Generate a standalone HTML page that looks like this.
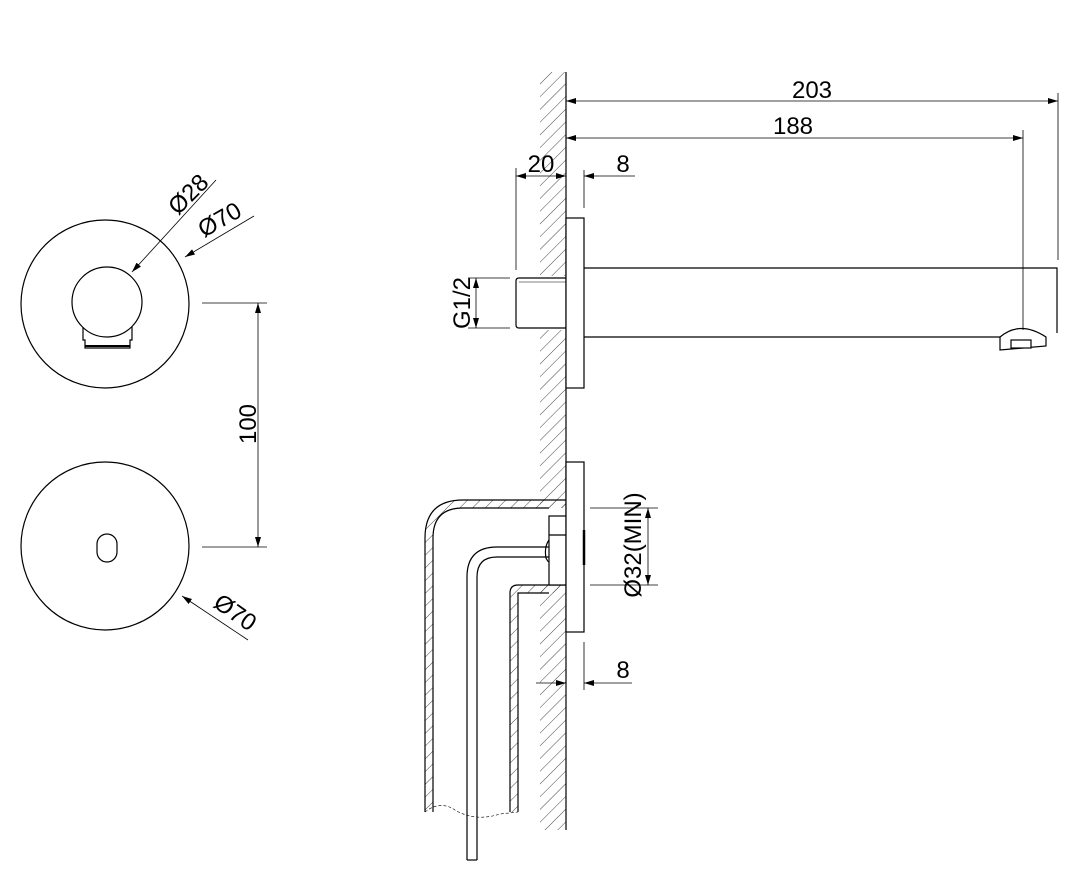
<!DOCTYPE html>
<html><head><style>html,body{margin:0;padding:0;background:#fff}svg{display:block}</style></head>
<body>
<svg width="1084" height="881" viewBox="0 0 1084 881" xmlns="http://www.w3.org/2000/svg" font-family="Liberation Sans, sans-serif">
<defs>
<pattern id="h" width="9" height="9" patternUnits="userSpaceOnUse" patternTransform="rotate(45)">
<line x1="0" y1="0" x2="0" y2="9" stroke="#333" stroke-width="0.9"/>
</pattern>
<marker id="a" viewBox="0 0 10 6" refX="10" refY="3" markerWidth="10" markerHeight="6" orient="auto-start-reverse" markerUnits="userSpaceOnUse">
<path d="M0,0 L10,3 L0,6 Z" fill="#000"/>
</marker>
</defs>
<g fill="none" stroke="#000" stroke-width="1.2">
<circle cx="105" cy="304" r="84"/>
<circle cx="107" cy="302" r="35"/>
<path d="M83,327 L83,340 L85,340 L85,348 L130,348 L130,340 L132,340 L132,327"/>
<line x1="85" y1="346" x2="130" y2="346" stroke-width="2"/>
<circle cx="105" cy="546" r="84"/>
<rect x="97" y="534" width="20" height="28" rx="10"/>
<line x1="132" y1="272" x2="216" y2="180" stroke-width="0.8" marker-start="url(#a)"/>
<line x1="185" y1="257" x2="254" y2="216" stroke-width="0.8" marker-start="url(#a)"/>
<line x1="182" y1="596" x2="248" y2="640" stroke-width="0.8" marker-start="url(#a)"/>
<line x1="202" y1="303" x2="267" y2="303" stroke-width="0.8"/>
<line x1="202" y1="547" x2="267" y2="547" stroke-width="0.8"/>
<line x1="258" y1="303" x2="258" y2="547" stroke-width="0.8" marker-start="url(#a)" marker-end="url(#a)"/>
</g>
<g font-size="24" fill="#000">
<text transform="translate(178,216) rotate(-45)">Ø28</text>
<text transform="translate(204,238) rotate(-30)">Ø70</text>
<text transform="translate(212,606) rotate(35)">Ø70</text>
<text transform="translate(256,424) rotate(-90)" text-anchor="middle">100</text>
</g>
<rect x="540" y="72" width="26" height="758" fill="url(#h)"/>
<rect x="540" y="508" width="26" height="77" fill="#fff"/>
<rect x="512" y="276" width="54" height="54" fill="#fff"/>
<path d="M566,500 L463,500 Q425,500 425,538 L425,812 L433,812 L433,538 Q433,508 463,508 L566,508 Z" fill="url(#h)"/>
<path d="M566,585 L518,585 Q510,585 510,593 L510,812 L518,812 L518,593 L566,593 Z" fill="url(#h)"/>
<g fill="none" stroke="#000" stroke-width="1.2">
<line x1="566" y1="72" x2="566" y2="830"/>
<rect x="566" y="218" width="18" height="170" fill="#fff"/>
<path d="M584,268 L1057,268 L1057,333 M584,337 L1000,337"/>
<path d="M566,278 L519,278 Q516,278 516,281 L516,325 Q516,328 519,328 L566,328"/>
<line x1="519" y1="282" x2="566" y2="282" stroke-width="0.6"/>
<path d="M1000,337 Q1020,320 1046,337 L1046,346 L1000,350 Z" fill="#fff"/>
<rect x="1011" y="340" width="20" height="8" fill="#fff"/>
<line x1="566" y1="101" x2="1058" y2="101" stroke-width="0.8" marker-start="url(#a)" marker-end="url(#a)"/>
<line x1="1058" y1="93" x2="1058" y2="260" stroke-width="0.8"/>
<line x1="566" y1="138" x2="1023" y2="138" stroke-width="0.8" marker-start="url(#a)" marker-end="url(#a)"/>
<line x1="1023" y1="130" x2="1023" y2="330" stroke-width="0.8"/>
<line x1="516" y1="168" x2="516" y2="270" stroke-width="0.8"/>
<line x1="516" y1="176" x2="566" y2="176" stroke-width="0.8" marker-start="url(#a)" marker-end="url(#a)"/>
<line x1="584" y1="170" x2="584" y2="208" stroke-width="0.8"/>
<line x1="584" y1="176" x2="635" y2="176" stroke-width="0.8" marker-start="url(#a)"/>
<line x1="468" y1="278" x2="510" y2="278" stroke-width="0.8"/>
<line x1="468" y1="328" x2="510" y2="328" stroke-width="0.8"/>
<line x1="476" y1="278" x2="476" y2="328" stroke-width="0.8" marker-start="url(#a)" marker-end="url(#a)"/>
<path d="M566,500 L463,500 Q425,500 425,538 L425,812"/>
<path d="M549,508 L463,508 Q433,508 433,538 L433,812"/>
<path d="M566,585 L518,585 Q510,585 510,593 L510,812"/>
<path d="M549,593 L518,593 L518,812"/>
<path d="M425,812 Q440,800 455,810 Q475,822 500,814 L518,812" stroke-width="0.6" stroke-dasharray="3,2"/>
<path d="M549,547 L497,547 Q467,547 467,577 L467,860"/>
<path d="M549,557 L497,557 Q477,557 477,577 L477,860"/>
<line x1="467" y1="860" x2="477" y2="860"/>
<rect x="549" y="516" width="17" height="69" fill="#fff"/>
<line x1="549" y1="535" x2="566" y2="535"/>
<path d="M549,540 Q544,547 546,558 Q548,562 549,562"/>
<rect x="566" y="462" width="18" height="170" fill="#fff"/>
<line x1="584" y1="530" x2="584" y2="565" stroke-width="2.5"/>
<line x1="590" y1="508" x2="658" y2="508" stroke-width="0.8"/>
<line x1="590" y1="585" x2="658" y2="585" stroke-width="0.8"/>
<line x1="648" y1="508" x2="648" y2="585" stroke-width="0.8" marker-start="url(#a)" marker-end="url(#a)"/>
<line x1="584" y1="642" x2="584" y2="690" stroke-width="0.8"/>
<line x1="536" y1="683" x2="566" y2="683" stroke-width="0.8" marker-end="url(#a)"/>
<line x1="584" y1="683" x2="632" y2="683" stroke-width="0.8" marker-start="url(#a)"/>
</g>
<g font-size="24" fill="#000">
<text x="812" y="98" text-anchor="middle">203</text>
<text x="793" y="134" text-anchor="middle">188</text>
<text x="541" y="172" text-anchor="middle">20</text>
<text x="623" y="172" text-anchor="middle">8</text>
<text x="623" y="678" text-anchor="middle">8</text>
<text transform="translate(470,303) rotate(-90)" text-anchor="middle">G1/2</text>
<text transform="translate(641,545) rotate(-90)" text-anchor="middle">Ø32(MIN)</text>
</g>
</svg>
</body></html>
